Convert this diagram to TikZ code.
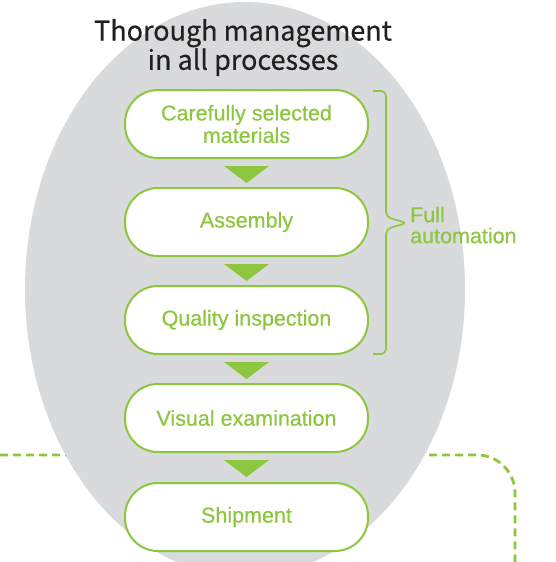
\documentclass[tikz,border=0pt]{standalone}
\usepackage{fontspec}
\setmainfont{Liberation Sans}
\newfontfamily\titlefont[FakeBold=0.4]{Noto Sans CJK JP}
\newfontfamily\greenfont[FakeBold=0.5]{Liberation Sans}
\usetikzlibrary{calc}
\definecolor{grn}{HTML}{8DC63F}
\definecolor{ellgray}{HTML}{D9DADC}
\definecolor{ink}{HTML}{231F20}
\tikzset{
 procbox/.style={draw=grn, line width=2pt, fill=white, rounded corners=33pt, minimum width=243pt, minimum height=68pt, text=grn, font=\greenfont\fontsize{21.5}{22.5}\selectfont, align=center, inner sep=0pt},
 flowtri/.style={fill=grn, draw=none},
 dashline/.style={draw=grn, line width=2.8pt, dash pattern=on 8pt off 5pt},
 bracestyle/.style={draw=grn, line width=1.6pt, rounded corners=5pt},
}
\begin{document}
\begin{tikzpicture}[x=1pt,y=-1pt]
\useasboundingbox (0,0) rectangle (556,562);
\clip (0,0) rectangle (556,562);
\fill[white] (0,0) rectangle (556,562);
% dashed boundary behind the ellipse
\coordinate (dl) at (0,455);
\coordinate (dc) at (515,455);
\coordinate (dd) at (515,566);
\draw[dashline, rounded corners=38pt] (dl) -- (dc) -- (dd);
% gray ellipse
\fill[ellgray] (245,289) ellipse [x radius=220pt, y radius=287pt];
% title
\node[font=\titlefont\fontsize{27}{28}\selectfont, text=ink, align=center] (title) at (243,47.5) {Thorough management\\in all processes};
% process boxes
\node[procbox] (b1) at (246.5,124) {Carefully selected\\materials};
\node[procbox] (b2) at (246.5,222) {Assembly};
\node[procbox] (b3) at (246.5,320) {Quality inspection};
\node[procbox] (b4) at (246.5,418) {Visual examination};
\node[procbox] (b5) at (246.5,517) {Shipment};
% triangles between boxes
\foreach \a/\b in {b1/b2,b2/b3,b3/b4,b4/b5}{
  \fill[flowtri] ([xshift=-22.5pt,yshift=-7pt]\a.south) -- ([xshift=22.5pt,yshift=-7pt]\a.south) -- ([yshift=-24pt]\a.south) -- cycle;
}
% brace
\coordinate (bt) at (373,91);
\coordinate (bb) at (373,354);
\draw[bracestyle] (bt) -- (386,91) -- (386,217) -- (407,223) -- (386,229) -- (386,354) -- (bb);
\node[anchor=west, align=left, text=grn, font=\greenfont\fontsize{21.5}{21}\selectfont, inner sep=0pt] (auto) at (410,225) {Full\\automation};
\end{tikzpicture}
\end{document}
